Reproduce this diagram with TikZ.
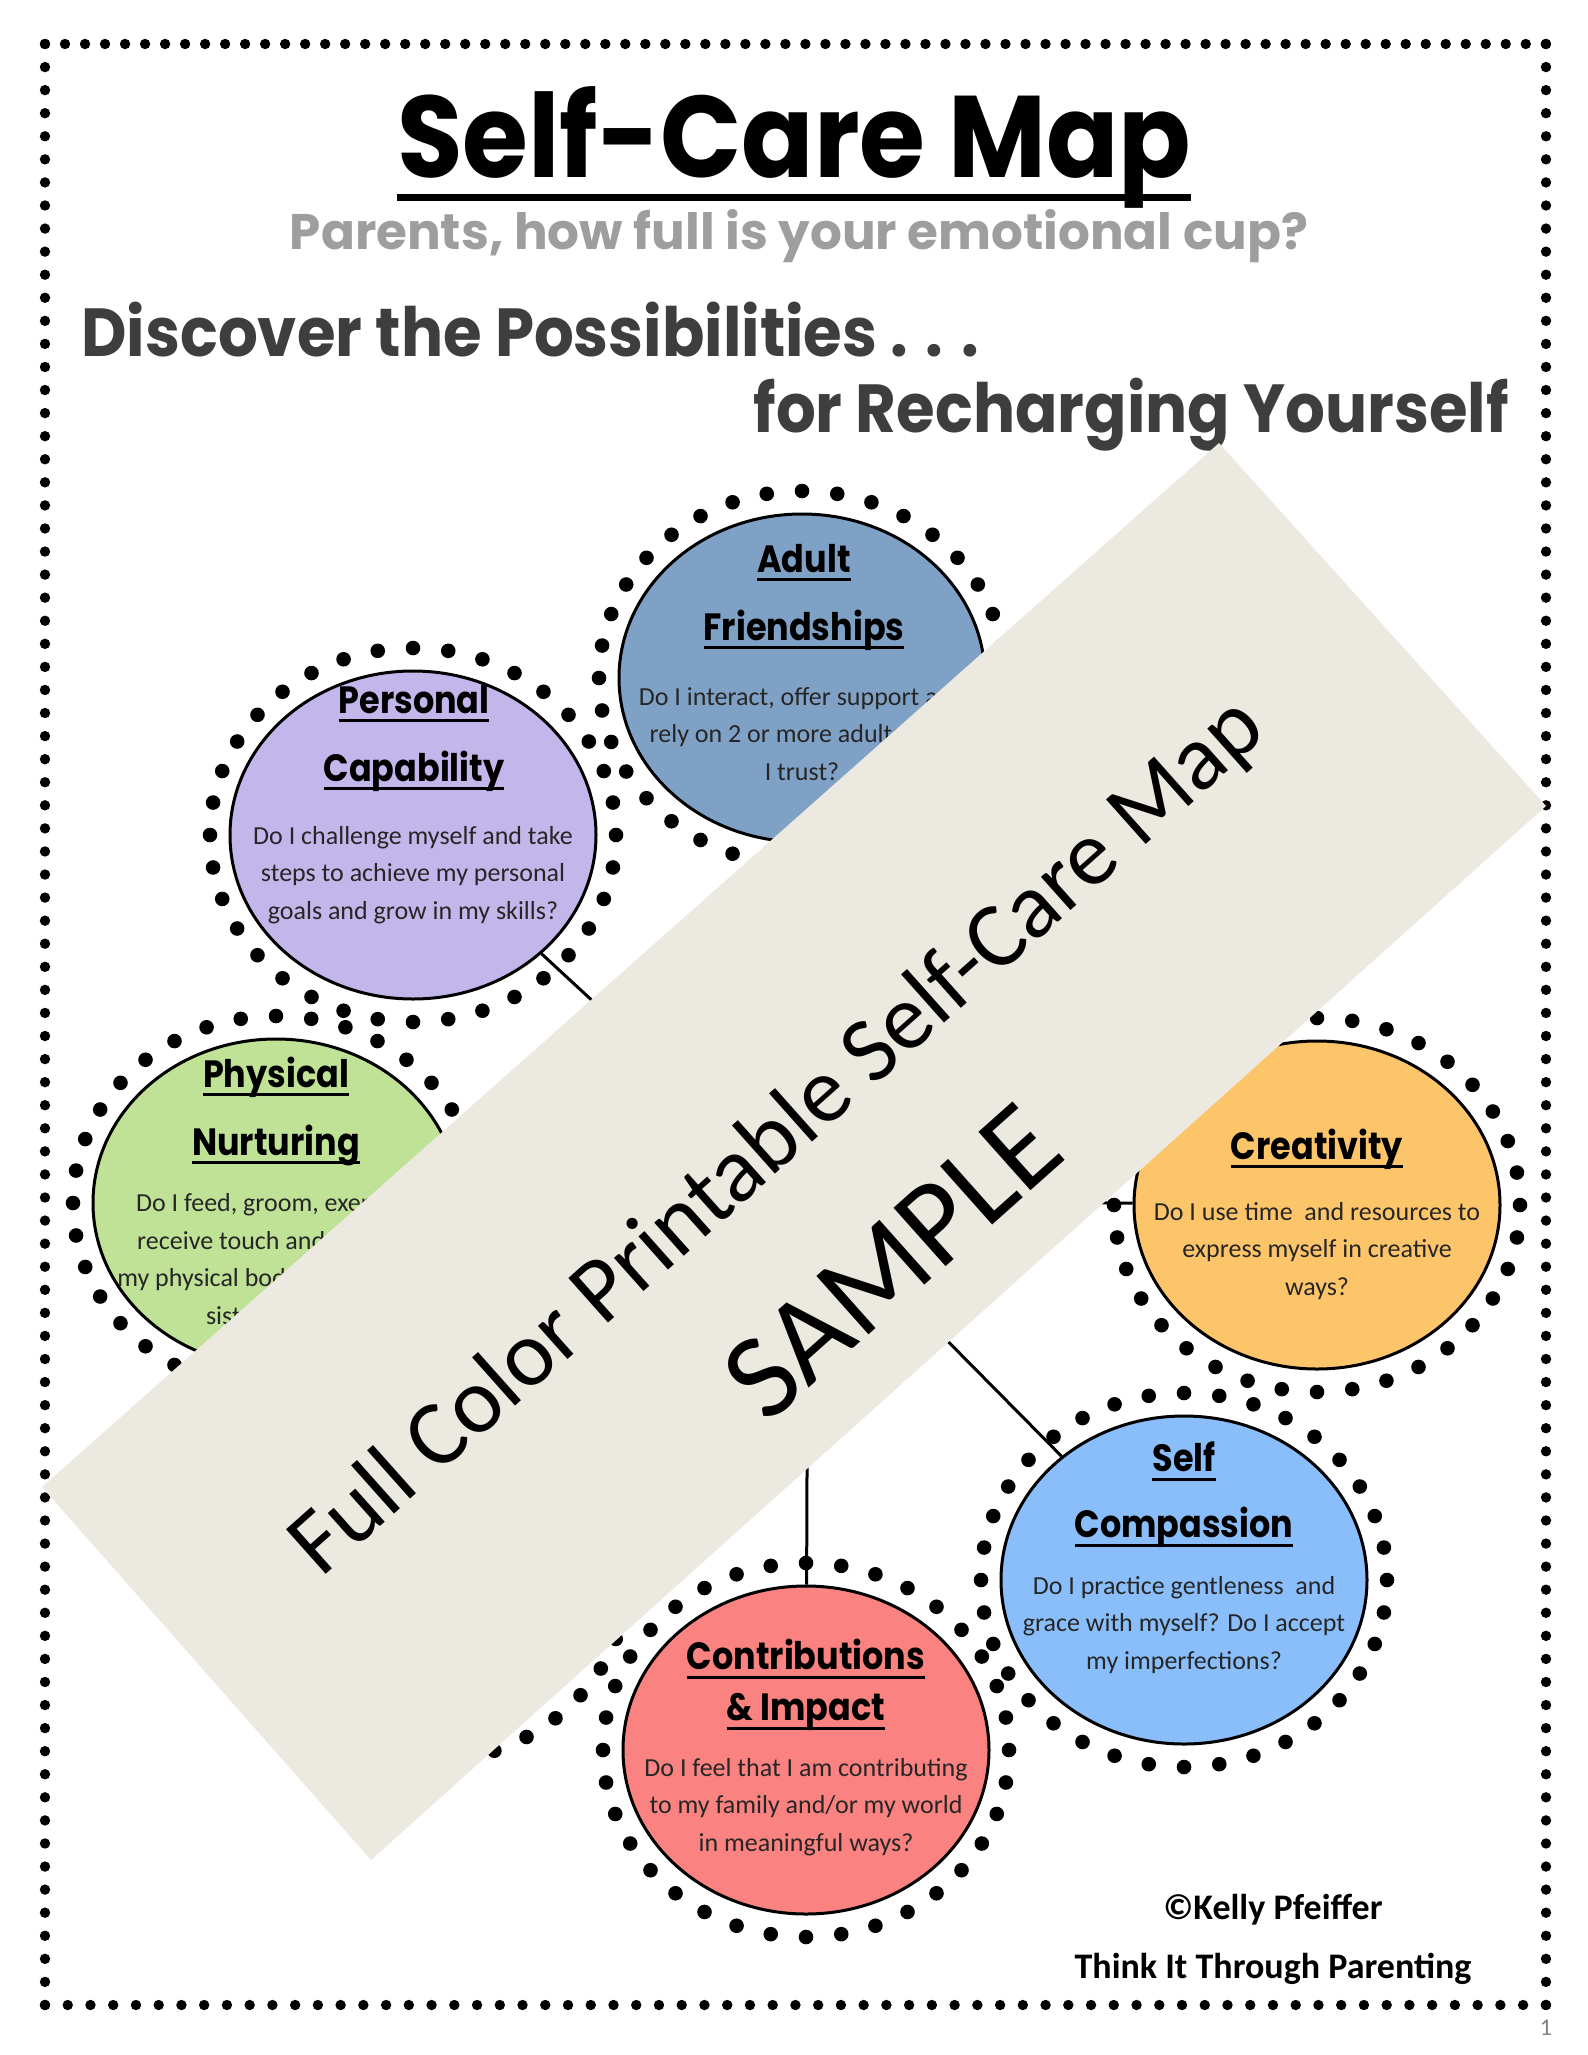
\documentclass[tikz,border=0pt]{standalone}
\usepackage{fontspec}
\setmainfont{Carlito}
\newfontfamily\headfont{Poppins}[FakeStretch=0.92]
\newfontfamily\subfont{Poppins}
\newfontfamily\topicfont{Poppins}[FakeStretch=0.88]
\usepackage{xcolor}
\usetikzlibrary{shapes.geometric, positioning, calc}

% underlined heading word
\newcommand{\ulword}[1]{\setbox0\hbox{#1}\rlap{\rule[-4.5pt]{\wd0}{1.4pt}}\box0}

\definecolor{friendblue}{RGB}{128,161,198}
\definecolor{capalilac}{RGB}{194,182,234}
\definecolor{physgreen}{RGB}{192,226,150}
\definecolor{creaorange}{RGB}{253,197,106}
\definecolor{compblue}{RGB}{137,190,250}
\definecolor{contsalmon}{RGB}{250,130,128}
\definecolor{bannerbg}{RGB}{236,234,224}
\definecolor{subgray}{RGB}{158,158,158}
\definecolor{headgray}{RGB}{62,62,62}

\tikzset{
  topic/.style={ellipse, draw, line width=1.5pt, minimum width=183pt, minimum height=164pt, inner sep=0pt},
  topichead/.style={align=center, font=\topicfont\bfseries\fontsize{19}{34}\selectfont},
  topicbody/.style={align=center, text=black!85, font=\fontsize{13}{18.8}\selectfont},
  link/.style={line width=1.5pt},
}

\begin{document}
\begin{tikzpicture}[x=0.5pt, y=-0.5pt]
        % Page frame
        \useasboundingbox (0,0) rectangle (1588,2055);
        \fill[white] (0,0) rectangle (1588,2055);
        \foreach \i in {0,...,75} \fill (45+\i*20.01,44) circle [radius=5.2];
        \foreach \i in {0,...,66} \fill (45+\i*22.74,2005) circle [radius=5.2];
        \foreach \i in {0,...,85} {
            \fill (45,44+\i*23.07) circle [radius=5.2];
            \fill (1546,44+\i*23.07) circle [radius=5.2];
        }

        % Headings
        \node[font=\headfont\bfseries\fontsize{58}{58}\selectfont, inner sep=0pt, anchor=base] (title) at (794,177) {Self-Care Map};
        \draw[line width=3.5pt] ([yshift=-10pt]title.base west) -- ([yshift=-10pt]title.base east);
        \node[font=\subfont\bfseries\fontsize{25}{25}\selectfont, text=subgray] (sub) at (799,236) {Parents, how full is your emotional cup?};
        \node[font=\headfont\bfseries\fontsize{34}{34}\selectfont, text=headgray, anchor=west, inner sep=0pt] (disc) at (81,330) {Discover the Possibilities . . .};
        \node[font=\headfont\bfseries\fontsize{34}{34}\selectfont, text=headgray, anchor=east, inner sep=0pt] (rech) at (1509,415) {for Recharging Yourself};

        % Topic circles
        \node[topic, fill=friendblue] (af) at (802,678) {};
        \node[topic, fill=capalilac] (pc) at (413,835) {};
        \node[topic, fill=physgreen] (pn) at (276,1203) {};
        \node[topic, fill=creaorange] (cr) at (1317,1205) {};
        \node[topic, fill=compblue] (sc) at (1184,1580) {};
        \node[topic, fill=contsalmon] (ci) at (806,1750) {};
        \node[topic, fill=white] (hid) at (425,1575) {};

        % Spokes
        \coordinate (hub) at (808,1200);
        \foreach \c in {af,pc,pn,cr,sc,ci,hid} \draw[link] (hub) -- (\c);

        % Dotted rings
        \foreach \c in {af,pc,pn,cr,sc,ci,hid}
            \foreach \a in {0,10,...,350} \fill ($(\c)+(\a:203 and 187)$) circle [radius=7.3];

        % Topic texts
        \node[topichead] (af-head) at (804,597) {\ulword{Adult}\\\ulword{Friendships}};
        \node[topicbody] (af-body) at (802,734) {Do I interact, offer support and\\rely on 2 or more adults who\\I trust?};
        \node[topichead] (pc-head) at (414,738) {\ulword{Personal}\\\ulword{Capability}};
        \node[topicbody] (pc-body) at (413,875) {Do I challenge myself and take\\steps to achieve my personal\\goals and grow in my skills?};
        \node[topichead] (pn-head) at (276,1111) {\ulword{Physical}\\\ulword{Nurturing}};
        \node[topicbody] (pn-body) at (276,1259) {Do I feed, groom, exercise,\\receive touch and sleep to\\my physical body's needs con-\\sistent basis?};
        \node[topichead] (cr-head) at (1317,1149) {\ulword{Creativity}};
        \node[topicbody] (cr-body) at (1317,1251) {Do I use time\ \ and resources to\\express myself in creative\\ways?};
        \node[topichead, font=\topicfont\bfseries\fontsize{19}{33}\selectfont] (sc-head) at (1184,1495) {\ulword{Self}\\\ulword{Compassion}};
        \node[topicbody] (sc-body) at (1184,1625) {Do I practice gentleness\ \ and\\grace with myself? Do I accept\\my imperfections?};
        \node[topichead, font=\topicfont\bfseries\fontsize{19}{25.5}\selectfont] (ci-head) at (806,1685) {\ulword{Contributions}\\\ulword{\& Impact}};
        \node[topicbody] (ci-body) at (806,1807) {Do I feel that I am contributing\\to my family and/or my world\\in meaningful ways?};

        % Sample banner
        \fill[bannerbg] (42,1487) -- (1219,443) -- (1546,806) -- (371,1860) -- cycle;
        \node[rotate=41.7, font=\fontsize{46.5}{46.5}\selectfont] (fullc) at (779,1138) {Full Color Printable Self-Care Map};
        \node[rotate=41.7, font=\fontsize{61}{61}\selectfont] (sample) at (892,1262) {SAMPLE};

        % Footer
        \node[font=\bfseries\fontsize{18}{18}\selectfont] (auth) at (1273,1910) {©Kelly Pfeiffer};
        \node[font=\bfseries\fontsize{18}{18}\selectfont] (brand) at (1273,1969) {Think It Through Parenting};
        \node[font=\fontsize{12}{12}\selectfont, text=gray] (pg) at (1546,2028) {1};
\end{tikzpicture}
\end{document}
